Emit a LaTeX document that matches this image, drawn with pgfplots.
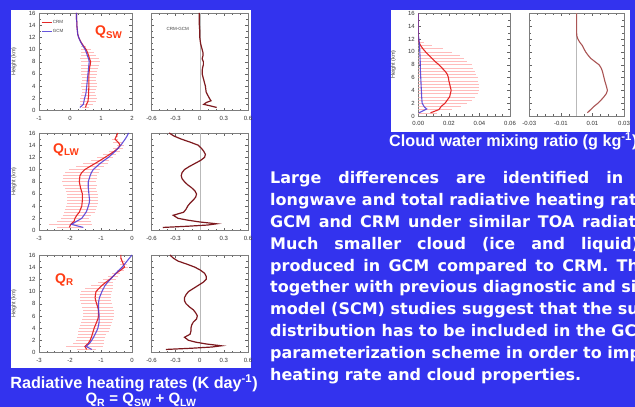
\documentclass[border=0pt]{standalone}
\usepackage{pgfplots}
\pgfplotsset{compat=1.18}
\usepackage{pgfplotstable}
\usepackage{fontspec}
\setmainfont{Liberation Sans}
\newfontfamily\paraf{DejaVu Sans}

\definecolor{bgblue}{RGB}{51,51,238}
\definecolor{crm}{RGB}{228,40,40}
\definecolor{gcm}{RGB}{75,55,215}
\definecolor{errp}{RGB}{255,188,188}
\definecolor{diffc}{RGB}{125,25,30}
\definecolor{diffc2}{RGB}{170,85,85}
\definecolor{qcol}{RGB}{255,60,20}
\definecolor{axgray}{RGB}{125,125,125}

\pgfplotstableread{
z gcm crm err
0.5 0.32 0.50 0.10
1.0 0.43 0.53 0.20
1.5 0.45 0.58 0.25
2.0 0.47 0.59 0.28
2.5 0.50 0.60 0.25
3.0 0.52 0.60 0.22
3.5 0.53 0.605 0.22
4.0 0.54 0.61 0.25
4.5 0.55 0.61 0.25
5.0 0.56 0.61 0.22
5.5 0.57 0.61 0.22
6.0 0.58 0.61 0.25
6.5 0.59 0.62 0.25
7.0 0.60 0.63 0.28
7.5 0.61 0.65 0.30
8.0 0.62 0.665 0.30
8.5 0.60 0.63 0.30
9.0 0.56 0.60 0.25
9.5 0.53 0.565 0.22
10.0 0.49 0.52 0.15
10.5 0.43 0.45 0.08
11.0 0.37 0.38 0.04
11.5 0.32 0.325 0.0
12.0 0.28 0.28 0
12.5 0.25 0.25 0
13.0 0.24 0.24 0
13.5 0.23 0.23 0
14.0 0.22 0.22 0
14.5 0.22 0.22 0
15.0 0.21 0.21 0
15.5 0.21 0.21 0
16.0 0.21 0.21 0
}\swtab

\pgfplotstableread{
z d
0.5 0.21
0.8 0.12
1.0 0.05
1.3 0.08
1.6 0.14
2.0 0.12
2.5 0.10
3.0 0.08
3.5 0.075
4.0 0.07
4.5 0.06
5.0 0.05
5.5 0.04
6.0 0.03
6.5 0.03
7.0 0.035
7.5 0.045
8.0 0.045
8.5 0.03
9.0 0.04
9.5 0.04
10.0 0.03
10.5 0.02
11.0 0.01
11.5 0.005
12.0 0.0
13.0 0.0
14.0 -0.005
15.0 -0.005
16.0 -0.005
}\swdiff

\pgfplotstableread{
z gcm crm err
0.5 -1.57 -2.02 0.40
1.0 -1.95 -1.98 0.70
1.5 -1.79 -1.87 0.55
2.0 -1.62 -1.84 0.45
2.5 -1.55 -1.78 0.45
3.0 -1.48 -1.70 0.50
3.5 -1.44 -1.66 0.50
4.0 -1.41 -1.62 0.50
4.5 -1.38 -1.61 0.50
5.0 -1.37 -1.60 0.50
5.5 -1.38 -1.60 0.50
6.0 -1.39 -1.60 0.50
6.5 -1.40 -1.63 0.50
7.0 -1.41 -1.66 0.50
7.5 -1.41 -1.68 0.55
8.0 -1.41 -1.70 0.55
8.5 -1.38 -1.69 0.55
9.0 -1.35 -1.68 0.55
9.5 -1.31 -1.62 0.55
10.0 -1.25 -1.52 0.50
10.5 -1.14 -1.36 0.45
11.0 -1.03 -1.19 0.40
11.5 -0.90 -1.03 0.30
12.0 -0.76 -0.87 0.25
12.5 -0.65 -0.72 0.20
13.0 -0.54 -0.57 0.18
13.5 -0.45 -0.45 0.15
14.0 -0.36 -0.38 0.12
14.5 -0.29 -0.45 0.15
15.0 -0.22 -0.55 0.10
15.5 -0.16 -0.50 0.05
16.0 -0.11 -0.46 0.0
}\lwtab

\pgfplotstableread{
z d
0.5 -0.46
0.7 -0.15
0.9 0.10
1.1 0.21
1.4 0.00
1.7 -0.15
2.0 -0.27
2.5 -0.33
3.0 -0.20
3.5 -0.17
4.0 -0.15
4.5 -0.12
5.0 -0.08
5.5 -0.05
6.0 -0.04
6.5 -0.06
7.0 -0.10
7.5 -0.15
8.0 -0.19
8.5 -0.22
9.0 -0.23
9.5 -0.22
10.0 -0.19
10.5 -0.13
11.0 -0.06
11.5 0.01
12.0 0.06
12.5 0.07
13.0 0.05
13.5 0.02
14.0 -0.02
14.5 -0.12
15.0 -0.23
15.5 -0.32
16.0 -0.38
}\lwdiff

\pgfplotstableread{
z gcm crm err
0.5 -1.30 -1.46 0.30
1.0 -1.48 -1.52 0.60
1.5 -1.37 -1.41 0.50
2.0 -1.30 -1.35 0.45
2.5 -1.24 -1.31 0.45
3.0 -1.19 -1.28 0.45
3.5 -1.14 -1.25 0.50
4.0 -1.10 -1.22 0.50
4.5 -1.08 -1.18 0.50
5.0 -1.06 -1.14 0.50
5.5 -1.06 -1.10 0.50
6.0 -1.06 -1.08 0.50
6.5 -1.07 -1.08 0.50
7.0 -1.08 -1.08 0.50
7.5 -1.08 -1.11 0.50
8.0 -1.08 -1.14 0.50
8.5 -1.07 -1.17 0.50
9.0 -1.05 -1.19 0.50
9.5 -1.01 -1.18 0.50
10.0 -0.97 -1.16 0.50
10.5 -0.92 -1.07 0.45
11.0 -0.87 -0.97 0.35
11.5 -0.79 -0.85 0.25
12.0 -0.70 -0.72 0.20
12.5 -0.61 -0.61 0.15
13.0 -0.52 -0.51 0.12
13.5 -0.42 -0.37 0.12
14.0 -0.32 -0.24 0.10
14.5 -0.24 -0.28 0.12
15.0 -0.16 -0.32 0.08
15.5 -0.08 -0.36 0.04
16.0 0.00 -0.36 0.0
}\qrtab

\pgfplotstableread{
z d
0.5 -0.42
0.7 -0.10
0.9 0.15
1.1 0.27
1.4 0.08
1.7 -0.05
2.0 -0.14
2.5 -0.19
3.0 -0.12
3.5 -0.11
4.0 -0.11
4.5 -0.10
5.0 -0.08
5.5 -0.04
6.0 -0.03
6.5 -0.05
7.0 -0.08
7.5 -0.13
8.0 -0.17
8.5 -0.19
9.0 -0.19
9.5 -0.17
10.0 -0.14
10.5 -0.08
11.0 -0.02
11.5 0.04
12.0 0.08
12.5 0.08
13.0 0.06
13.5 0.01
14.0 -0.06
14.5 -0.16
15.0 -0.27
15.5 -0.33
16.0 -0.37
}\qrdiff

\pgfplotstableread{
z crm em ep
0.5 0.008 0.008 0.004
1.0 0.0135 0.0135 0.0085
1.5 0.015 0.015 0.013
2.0 0.0175 0.0175 0.0145
2.5 0.019 0.019 0.016
3.0 0.0205 0.0205 0.0165
3.5 0.021 0.021 0.018
4.0 0.0215 0.0215 0.0185
4.5 0.021 0.021 0.019
5.0 0.0205 0.0205 0.0195
5.5 0.020 0.020 0.019
6.0 0.0197 0.0197 0.0193
6.5 0.019 0.019 0.019
7.0 0.0175 0.0175 0.0195
7.5 0.0155 0.0155 0.0205
8.0 0.0135 0.0135 0.0215
8.5 0.011 0.011 0.021
9.0 0.009 0.009 0.021
9.5 0.0068 0.0068 0.0202
10.0 0.0048 0.0048 0.0172
10.5 0.003 0.003 0.013
11.0 0.0015 0.0015 0.0075
11.5 0.0005 0.0005 0.0035
12.0 0 0 0
13.0 0 0 0
14.0 0 0 0
15.0 0 0 0
16.0 0 0 0
}\cwtab

\pgfplotstableread{
z gcm
0.5 0.0005
0.8 0.003
1.1 0.0055
1.4 0.004
2.0 0.0025
3.0 0.0022
4.0 0.002
5.0 0.0018
6.0 0.0016
7.0 0.0014
8.0 0.0013
9.0 0.0012
10.0 0.001
11.0 0.0008
12.0 0.0004
12.5 0.0001
13.0 0
16.0 0
}\cwgcm

\pgfplotstableread{
z d
0.5 0.0068
1.0 0.0089
1.5 0.011
2.0 0.0135
2.5 0.0155
3.0 0.0173
3.5 0.0188
4.0 0.0195
4.5 0.019
5.0 0.0184
5.5 0.0178
6.0 0.0173
6.5 0.0168
7.0 0.0163
7.5 0.0155
8.0 0.0142
8.5 0.0115
9.0 0.0089
9.5 0.0072
10.0 0.0057
10.5 0.0046
11.0 0.0036
11.5 0.002
12.0 0.0008
12.5 0.0001
13.0 0
16.0 0
}\cwdiff

\pgfplotsset{
  base/.style={scale only axis, ymin=0, ymax=16, ytick={0,2,...,16}, minor y tick num=1,
    axis line style={axgray, line width=0.6pt},
    tick style={axgray!80!black, line width=0.4pt},
    tick align=inside, xtick pos=both, ytick pos=both,
    major tick length=2.6pt, minor tick length=1.6pt,
    tick label style={font=\fontsize{6}{6.5}\selectfont, text=black!80},
    xticklabel style={yshift=-2pt},
    /pgf/number format/assume math mode=true,
    clip=true},
  leftp/.style={base, width=93pt, height=97.5pt, ylabel={Height (km)},
    ylabel style={font=\fontsize{5.5}{6}\selectfont, text=black!75, at={(axis description cs:-0.27,0.5)}, anchor=center}},
  rightp/.style={base, width=96.5pt, height=97.5pt, yticklabels={}, xmin=-0.6, xmax=0.6,
    xtick={-0.6,-0.3,0,0.3,0.6}, xticklabels={-0.6,-0.3,0,0.3,0.6}, minor x tick num=2},
  qrad/.style={xmin=-3, xmax=0, xtick={-3,-2,-1,0}, xticklabels={-3,-2,-1,0}, minor x tick num=3},
  errs/.style={draw=none, forget plot, error bars/.cd, x dir=both, x explicit, error mark=none,
    error bar style={draw=errp, solid, line width=0.5pt}},
  crml/.style={crm, line width=1.1pt},
  gcml/.style={gcm, line width=1.1pt, opacity=0.85},
  diffl/.style={diffc, line width=1.2pt},
  zerol/.style={gray!55, line width=0.5pt, forget plot},
}

\newcommand\jl[2]{\hbox to #1pt{\spaceskip=0.348em plus 1fil\xspaceskip=0.348em plus 1fil\relax #2}}
\newcommand\nl[1]{\hbox{\spaceskip=0.348em\xspaceskip=0.348em\relax #1}}

\begin{document}
\begin{tikzpicture}[x=1pt,y=1pt]
\useasboundingbox (0,0) rectangle (635,407);
\clip (0,0) rectangle (635,407);
\fill[bgblue] (0,0) rectangle (635,407);
\fill[white] (11,39) rectangle (251,397);
\fill[white] (391,275) rectangle (630,397);

% Row 1: QSW
\begin{axis}[leftp, at={(39pt,296.5pt)}, anchor=south west, xmin=-1, xmax=2,
  xtick={-1,0,1,2}, xticklabels={-1,0,1,2}, minor x tick num=3,
  legend style={draw=none, fill=none, at={(0.02,0.935)}, anchor=north west,
    font=\fontsize{4.5}{5}\selectfont, text=black!75, row sep=3.5pt, inner sep=0pt,
    nodes={inner sep=0.6pt}},
  legend image code/.code={\draw[#1] (0pt,0pt) -- (10pt,0pt);}, legend cell align=left]
\addplot[errs] table[x=crm, y=z, x error=err] {\swtab};
\addplot[crml] table[x=crm, y=z] {\swtab};
\addlegendentry{CRM}
\addplot[gcml] table[x=gcm, y=z] {\swtab};
\addlegendentry{GCM}
\end{axis}
\begin{axis}[rightp, at={(151.5pt,296.5pt)}, anchor=south west]
\addplot[zerol] coordinates {(0,0) (0,16)};
\addplot[diffl] table[x=d, y=z] {\swdiff};
\node[anchor=west, font=\fontsize{4.5}{5}\selectfont, text=black!75] at (rel axis cs:0.12,0.835) {CRM-GCM};
\end{axis}

% Row 2: QLW
\begin{axis}[leftp, qrad, at={(39pt,176.5pt)}, anchor=south west]
\addplot[errs] table[x=crm, y=z, x error=err] {\lwtab};
\addplot[crml] table[x=crm, y=z] {\lwtab};
\addplot[gcml] table[x=gcm, y=z] {\lwtab};
\end{axis}
\begin{axis}[rightp, at={(151.5pt,176.5pt)}, anchor=south west]
\addplot[zerol] coordinates {(0,0) (0,16)};
\addplot[diffl] table[x=d, y=z] {\lwdiff};
\end{axis}

% Row 3: QR
\begin{axis}[leftp, qrad, at={(39pt,54.5pt)}, anchor=south west]
\addplot[errs] table[x=crm, y=z, x error=err] {\qrtab};
\addplot[crml] table[x=crm, y=z] {\qrtab};
\addplot[gcml] table[x=gcm, y=z] {\qrtab};
\end{axis}
\begin{axis}[rightp, at={(151.5pt,54.5pt)}, anchor=south west]
\addplot[zerol] coordinates {(0,0) (0,16)};
\addplot[diffl] table[x=d, y=z] {\qrdiff};
\end{axis}

% Cloud water
\begin{axis}[base, width=91.7pt, height=102.5pt, at={(418.3pt,291pt)}, anchor=south west,
  xmin=0, xmax=0.06, xtick={0,0.02,0.04,0.06}, xticklabels={0.00,0.02,0.04,0.06}, minor x tick num=3,
  ylabel={Height (km)},
  ylabel style={font=\fontsize{5.5}{6}\selectfont, text=black!75, at={(axis description cs:-0.27,0.5)}, anchor=center}]
\addplot[errs] table[x=crm, y=z, x error minus=em, x error plus=ep] {\cwtab};
\addplot[crml] table[x=crm, y=z] {\cwtab};
\addplot[gcml] table[x=gcm, y=z] {\cwgcm};
\end{axis}
\begin{axis}[base, width=94.7pt, height=102.5pt, at={(529.3pt,291pt)}, anchor=south west,
  yticklabels={}, xmin=-0.03, xmax=0.03, xtick={-0.03,-0.01,0.01,0.03},
  xticklabels={-0.03,-0.01,0.01,0.03}, minor x tick num=3]
\addplot[zerol] coordinates {(0,0) (0,16)};
\addplot[diffc2, line width=1.1pt] table[x=d, y=z] {\cwdiff};
\end{axis}

% Panel labels
\node[anchor=base west, inner sep=0, text=qcol, font=\bfseries\fontsize{14}{14}\selectfont] at (95,371) {Q\textsubscript{SW}};
\node[anchor=base west, inner sep=0, text=qcol, font=\bfseries\fontsize{14}{14}\selectfont] at (53,253.5) {Q\textsubscript{LW}};
\node[anchor=base west, inner sep=0, text=qcol, font=\bfseries\fontsize{14}{14}\selectfont] at (55,123.5) {Q\textsubscript{R}};

% Captions
\node[anchor=base, inner sep=0, text=white, font=\bfseries\fontsize{16.2}{17}\selectfont] at (134,18) {Radiative heating rates (K day\textsuperscript{-1})};
\node[anchor=base, inner sep=0, text=white, font=\bfseries\fontsize{15}{16}\selectfont] at (141,3) {Q\textsubscript{R} = Q\textsubscript{SW} + Q\textsubscript{LW}};
\node[anchor=base west, inner sep=0, text=white, font=\bfseries\fontsize{16.2}{17}\selectfont] at (389,260) {Cloud water mixing ratio (g kg\textsuperscript{-1})};

% Paragraph
\node[anchor=base west, inner sep=0, text=white, font=\paraf\bfseries\fontsize{16}{21.8}\selectfont] at (270,223) {\vtop{%
\jl{400}{Large differences are identified in the}
\jl{400}{longwave and total radiative heating rates of}
\jl{400}{GCM and CRM under similar TOA radiation.}
\jl{400}{Much smaller cloud (ice and liquid) is}
\jl{400}{produced in GCM compared to CRM. These}
\jl{400}{together with previous diagnostic and single}
\jl{400}{model (SCM) studies suggest that the subgrid}
\jl{382}{distribution has to be included in the GCM}
\jl{400}{parameterization scheme in order to improve}
\nl{heating rate and cloud properties.}}};
\end{tikzpicture}
\end{document}
